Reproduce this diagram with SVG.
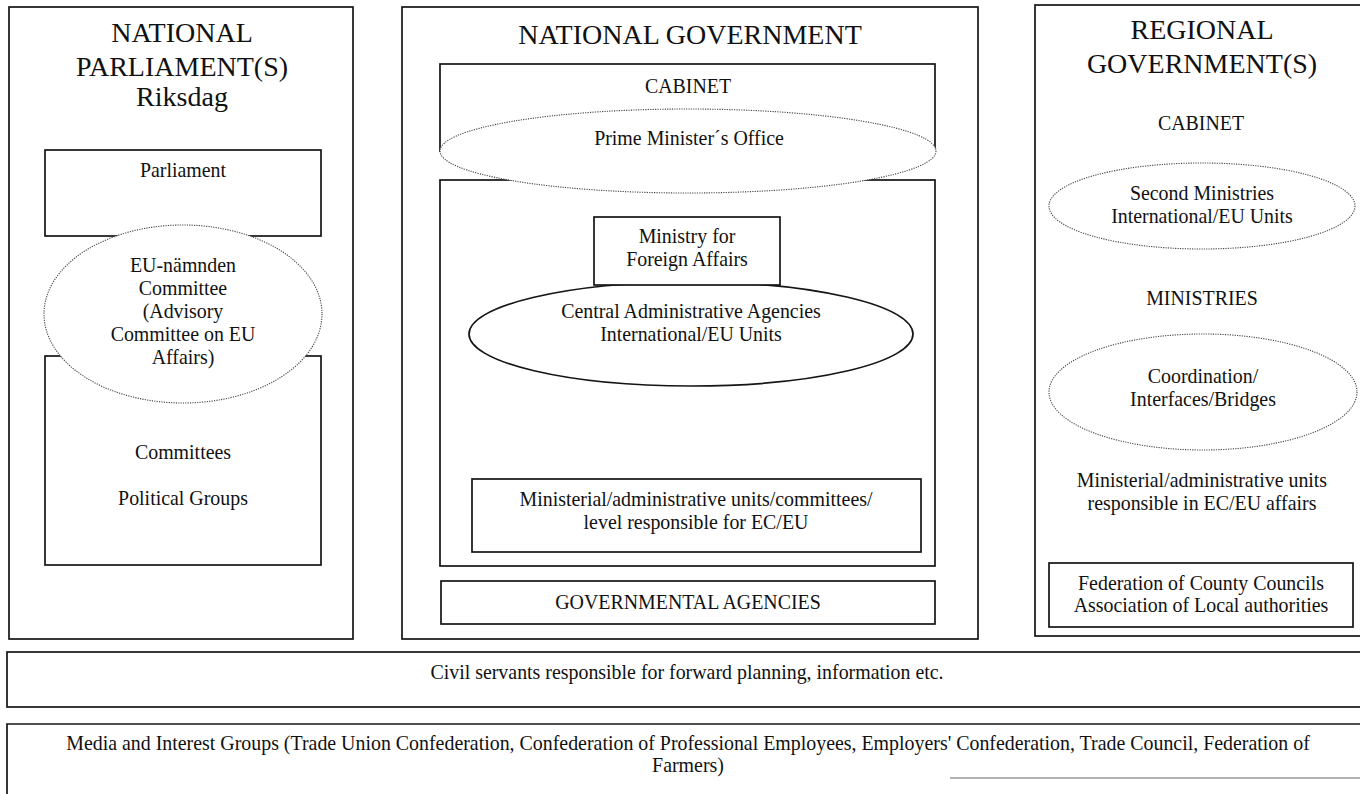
<svg xmlns="http://www.w3.org/2000/svg" width="1360" height="794" viewBox="0 0 1360 794">
<style>
.box{fill:none;stroke:#151515;stroke-width:1.7}
.wbox{fill:#fff;stroke:#151515;stroke-width:1.7}
.dot{fill:#fff;stroke:#444;stroke-width:1.1;stroke-dasharray:1.2 1.2}
.sol{fill:#fff;stroke:#151515;stroke-width:1.7}
text{font-family:"Liberation Serif","Times New Roman",serif;fill:#111;text-anchor:middle;font-size:19.9px}
.t{font-size:28px}
</style>
<rect width="1360" height="794" fill="#fff"/>

<g id="national-parliament">
  <rect class="box" x="9" y="7" width="344" height="632"/>
  <text class="t" x="182" y="42">NATIONAL</text>
  <text class="t" x="182" y="76">PARLIAMENT(S)</text>
  <text class="t" x="182" y="106">Riksdag</text>
</g>
<g id="parliament">
  <rect class="box" x="45" y="150" width="276" height="86"/>
  <text x="183" y="177">Parliament</text>
</g>
<g id="committees">
  <rect class="box" x="45" y="356" width="276" height="209"/>
  <text x="183" y="459">Committees</text>
  <text x="183" y="505">Political Groups</text>
</g>
<g id="eu-namnden">
  <ellipse class="dot" cx="183" cy="314" rx="139" ry="89"/>
  <text x="183" y="272">EU-nämnden</text>
  <text x="183" y="295">Committee</text>
  <text x="183" y="318">(Advisory</text>
  <text x="183" y="341">Committee on EU</text>
  <text x="183" y="364">Affairs)</text>
</g>

<g id="national-government">
  <rect class="box" x="402" y="7" width="576" height="632"/>
  <text class="t" x="690" y="44">NATIONAL GOVERNMENT</text>
</g>
<g id="cabinet">
  <rect class="box" x="440" y="64" width="495" height="87"/>
  <text x="688" y="93">CABINET</text>
</g>
<g id="ministries-inner">
  <rect class="box" x="440" y="180" width="495" height="386"/>
</g>
<g id="prime-ministers-office">
  <ellipse class="dot" cx="688" cy="151" rx="248" ry="42"/>
  <text x="689" y="145">Prime Minister´s Office</text>
</g>
<g id="central-agencies">
  <ellipse class="sol" cx="691" cy="334" rx="222" ry="52"/>
  <text x="691" y="318">Central Administrative Agencies</text>
  <text x="691" y="341">International/EU Units</text>
</g>
<g id="foreign-affairs">
  <rect class="wbox" x="594" y="217" width="186" height="68"/>
  <text x="687" y="243">Ministry for</text>
  <text x="687" y="266">Foreign Affairs</text>
</g>
<g id="ministerial-units">
  <rect class="box" x="472" y="479" width="449" height="73"/>
  <text x="696" y="506">Ministerial/administrative units/committees/</text>
  <text x="696" y="529">level responsible for EC/EU</text>
</g>
<g id="governmental-agencies">
  <rect class="box" x="441" y="581" width="494" height="43"/>
  <text x="688" y="609">GOVERNMENTAL AGENCIES</text>
</g>

<g id="regional-government">
  <rect class="box" x="1035" y="5" width="330" height="631"/>
  <text class="t" x="1202" y="39">REGIONAL</text>
  <text class="t" x="1202" y="73">GOVERNMENT(S)</text>
  <text x="1201" y="130">CABINET</text>
  <text x="1202" y="305">MINISTRIES</text>
  <text x="1202" y="487">Ministerial/administrative units</text>
  <text x="1202" y="510">responsible in EC/EU affairs</text>
</g>
<g id="second-ministries">
  <ellipse class="dot" cx="1202" cy="206" rx="153" ry="43"/>
  <text x="1202" y="200">Second Ministries</text>
  <text x="1202" y="223">International/EU Units</text>
</g>
<g id="coordination">
  <ellipse class="dot" cx="1203" cy="392" rx="154" ry="58"/>
  <text x="1203" y="383">Coordination/</text>
  <text x="1203" y="406">Interfaces/Bridges</text>
</g>
<g id="federation">
  <rect class="box" x="1049" y="563" width="304" height="64"/>
  <text x="1201" y="590">Federation of County Councils</text>
  <text x="1201" y="612">Association of Local authorities</text>
</g>

<g id="civil-servants">
  <rect class="box" x="7" y="652" width="1360" height="55"/>
  <text x="687" y="679">Civil servants responsible for forward planning, information etc.</text>
</g>
<g id="media-interest-groups">
  <path class="box" d="M7,794 V724 H1367"/>
  <line x1="950" y1="778" x2="1360" y2="778" stroke="#999" stroke-width="1.5"/>
  <text x="688" y="750">Media and Interest Groups (Trade Union Confederation, Confederation of Professional Employees, Employers' Confederation, Trade Council, Federation of</text>
  <text x="688" y="772">Farmers)</text>
</g>

<g id="connectors"/>
</svg>
